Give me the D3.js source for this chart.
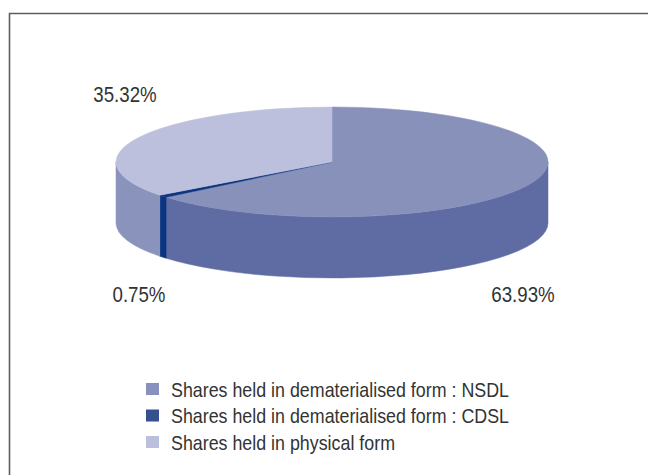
<!DOCTYPE html>
<html>
<head>
<meta charset="utf-8">
<script src="https://cdn.jsdelivr.net/npm/d3@7"></script>
<style>
  body { margin: 0; background: #fff; }
  text { font-family: "Liberation Sans", Arial, sans-serif; fill: #333; }
</style>
</head>
<body>
<script>
// data
var categories = ["Shares held in dematerialised form : NSDL", "Shares held in dematerialised form : CDSL", "Shares held in physical form"];
var values = [63.93, 0.75, 35.32];
var labels = ["63.93%", "0.75%", "35.32%"];

// colours: top face, side wall, legend swatch
var top_colors = ["#8891ba", "#0b3580", "#bcc0dc"];
var side_colors = ["#5f6ba3", "#0b3580", "#8a93bc"];
var legend_colors = ["#8a90be", "#35508f", "#babfdc"];

var width = 648, height = 475;
var cx = 332, cy = 162, rx = 216, ry = 55, depth = 61;
var squeeze = 0.85; // the original font is a condensed face
// where each percentage label sits (x centre, baseline)
var label_pos = [[523, 302], [139, 302], [125, 102]];

var svg = d3.select('body').append('svg').attr('width', width).attr('height', height);

// frame, open to right and bottom
svg.append('path').attr('d', 'M9.5,' + height + 'V13.5H' + width)
  .attr('fill', 'none').attr('stroke', '#5e5e5e').attr('stroke-width', 1.6);

var pie = d3.pie().sort(null).value(d => d);
var arcs = pie(values);

function pt(a, dy) { return [cx + rx * Math.sin(a), cy - ry * Math.cos(a) + (dy || 0)]; }

// side walls only for the front half (angles pi/2 .. 3pi/2)
function side_path(d) {
  var a0 = Math.max(d.startAngle, Math.PI / 2), a1 = Math.min(d.endAngle, 3 * Math.PI / 2);
  if (a1 <= a0) return null;
  var p0 = pt(a0), p1 = pt(a1), q1 = pt(a1, depth), q0 = pt(a0, depth);
  return 'M' + p0 + 'A' + rx + ',' + ry + ' 0 0 1 ' + p1 + 'L' + q1 +
    'A' + rx + ',' + ry + ' 0 0 0 ' + q0 + 'Z';
}

function top_path(d) {
  var p0 = pt(d.startAngle), p1 = pt(d.endAngle);
  var large = (d.endAngle - d.startAngle) > Math.PI ? 1 : 0;
  return 'M' + cx + ',' + cy + 'L' + p0 + 'A' + rx + ',' + ry + ' 0 ' + large + ' 1 ' + p1 + 'Z';
}

var g = svg.append('g');
g.selectAll('path.side').data(arcs.filter(d => side_path(d))).enter().append('path')
  .attr('class', 'side').attr('d', side_path)
  .attr('fill', d => side_colors[d.index]).attr('stroke', d => side_colors[d.index]).attr('stroke-width', 0.5);

g.selectAll('path.top').data(arcs).enter().append('path')
  .attr('class', 'top').attr('d', top_path)
  .attr('fill', d => top_colors[d.index]).attr('stroke', d => top_colors[d.index]).attr('stroke-width', 0.5);

// percentage labels
svg.selectAll('text.lbl').data(labels).enter().append('text')
  .attr('class', 'lbl').text(d => d)
  .attr('transform', (d, i) => 'translate(' + label_pos[i] + ') scale(' + squeeze + ',1)')
  .attr('text-anchor', 'middle').attr('font-size', '22px');

// legend
var legend = svg.append('g').attr('transform', 'translate(146,383)');
var rows = legend.selectAll('g').data(categories).enter().append('g')
  .attr('transform', (d, i) => 'translate(0,' + (i * 26.5) + ')');
rows.append('rect').attr('width', 13).attr('height', 12).attr('fill', (d, i) => legend_colors[i]);
rows.append('text').text(d => d)
  .attr('transform', 'translate(25,13.5) scale(' + squeeze + ',1)').attr('font-size', '21px');
</script>
</body>
</html>
